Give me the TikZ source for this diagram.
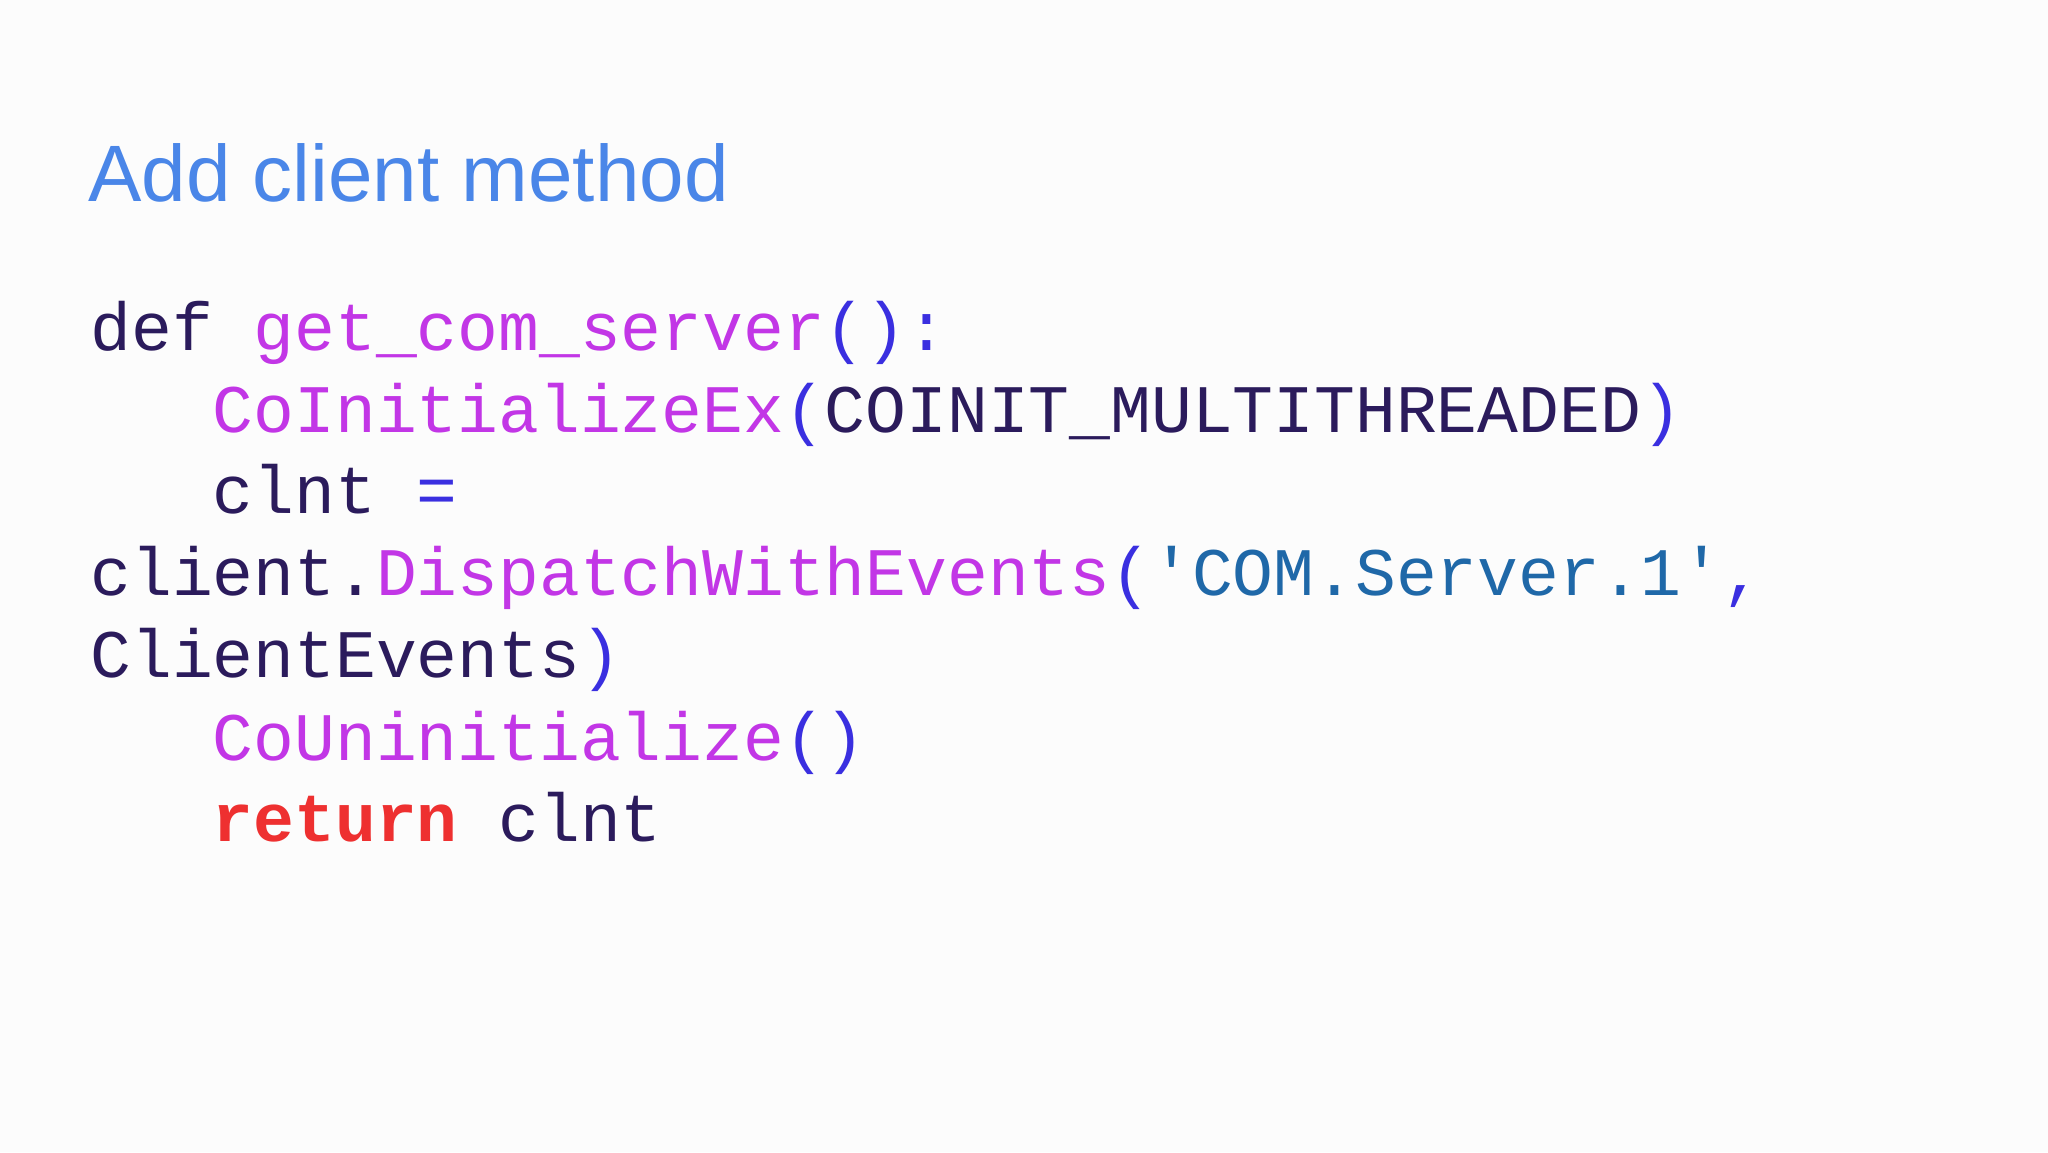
\documentclass[tikz,border=0pt]{standalone}
\usepackage{fontspec}
\setmainfont{Liberation Sans}
\setmonofont{Liberation Mono}
\definecolor{ttl}{HTML}{4A86E8}
\definecolor{txt}{HTML}{2B1B5C}
\definecolor{fn}{HTML}{C236E6}
\definecolor{par}{HTML}{3A2FE0}
\definecolor{str}{HTML}{1F68A8}
\definecolor{kw}{HTML}{EE3030}
\newcommand{\fnc}[1]{\textcolor{fn}{#1}}
\newcommand{\prn}[1]{\textcolor{par}{#1}}
\begin{document}
\begin{tikzpicture}[x=1pt,y=1pt,
  code/.style={anchor=base west,inner sep=0pt,font=\ttfamily\fontsize{34}{40}\selectfont,text=txt}]
\useasboundingbox[fill=white] (0,0) rectangle (1024,576);
\fill[black!1] (0,0) rectangle (1024,576);
\node[anchor=base west,inner sep=0pt,font=\fontsize{40}{46}\selectfont,text=ttl] (title) at (44,475) {Add client method};
\node[code] (l1) at (45,400.5) {def \fnc{get\_com\_server}\prn{():}};
\node[code] (l2) at (45,359.5) {\phantom{xxx}\fnc{CoInitializeEx}\prn{(}COINIT\_MULTITHREADED\prn{)}};
\node[code] (l3) at (45,319) {\phantom{xxx}clnt \prn{=}};
\node[code] (l4) at (45,278) {client.\fnc{DispatchWithEvents}\prn{(}\textcolor{str}{\symbol{39}COM.Server.1\symbol{39}}\prn{,}};
\node[code] (l5) at (45,237) {ClientEvents\prn{)}};
\node[code] (l6) at (45,196) {\phantom{xxx}\fnc{CoUninitialize}\prn{()}};
\node[code] (l7) at (45,155.5) {\phantom{xxx}\textcolor{kw}{\bfseries return} clnt};
\end{tikzpicture}
\end{document}
